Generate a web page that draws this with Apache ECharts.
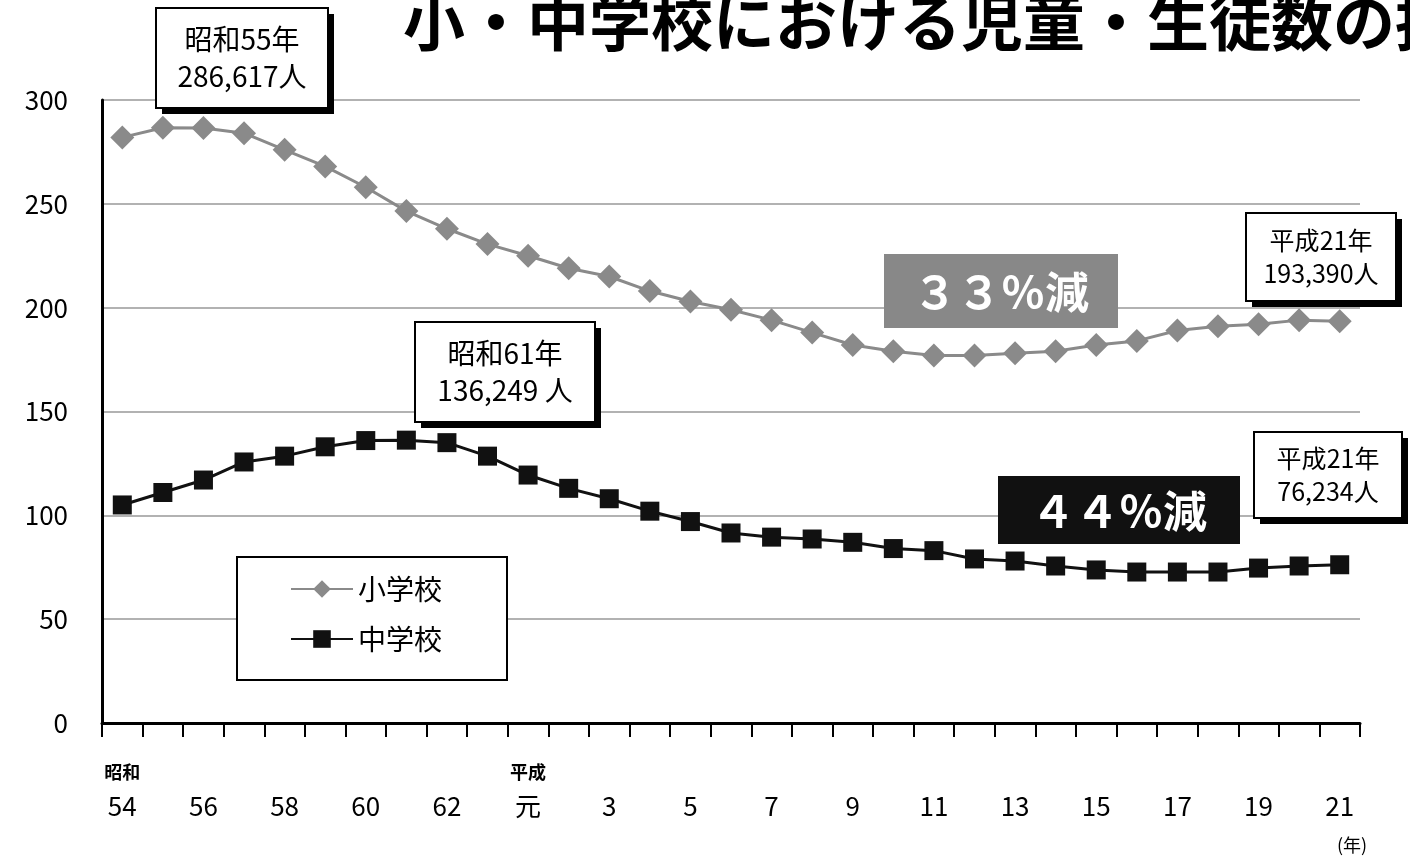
<!DOCTYPE html>
<html>
<head>
<meta charset="utf-8">
<script src="https://cdn.jsdelivr.net/npm/echarts@6/dist/echarts.min.js"></script>
<style>
html,body{margin:0;padding:0;background:#fff;}
#chart{width:1410px;height:860px;}
</style>
</head>
<body>
<div id="chart"></div>
<script>
var years = ["昭和54","55","56","57","58","59","60","61","62","63",
    "平成元","2","3","4","5","6","7","8","9","10","11","12","13","14","15","16","17","18","19","20","21"];
var tickLabels = ["54","55","56","57","58","59","60","61","62","63",
    "元","2","3","4","5","6","7","8","9","10","11","12","13","14","15","16","17","18","19","20","21"];
// 千人
var elementary = [282, 286.6, 286.5, 284, 276, 268, 258, 246.5, 238, 230.6, 225, 219, 215, 208, 203, 199,
    194, 188, 182, 179, 177, 177, 178, 179, 182, 184, 189, 191, 192, 194, 193.4];
var juniorHigh = [105, 111, 117, 125.7, 128.5, 133, 136, 136.2, 135, 128.5, 119.4, 113, 108, 102, 97, 91.5,
    89.5, 88.6, 87, 84, 83, 79, 78, 75.6, 73.7, 72.7, 72.7, 72.7, 74.6, 75.6, 76.2];

var chart = echarts.init(document.getElementById("chart"));
var font = "'Noto Sans CJK JP', sans-serif";

function box(x, y, w, h, lines, size) {
    return [
        { type: 'rect', shape: { x: x + 6, y: y + 6, width: w, height: h }, style: { fill: '#000' }, z: 20 },
        { type: 'rect', shape: { x: x, y: y, width: w, height: h }, style: { fill: '#fff', stroke: '#000', lineWidth: 2 }, z: 21 },
        { type: 'text', x: x + w / 2, y: y + h / 2, z: 22,
          style: { text: lines, fill: '#000', font: size + 'px ' + font, align: 'center', verticalAlign: 'middle', lineHeight: size * 1.3 } }
    ];
}

var graphics = [].concat(
    box(156, 8, 172, 100, "昭和55年\n286,617人", 28),
    box(415, 322, 180, 100, "昭和61年\n136,249 人", 28),
    box(1246, 213, 150, 88, "平成21年\n193,390人", 25),
    box(1254, 432, 148, 86, "平成21年\n76,234人", 25),
    [
        { type: 'rect', shape: { x: 884, y: 254, width: 234, height: 74 }, style: { fill: '#888' }, z: 20 },
        { type: 'text', x: 1001, y: 292, z: 21, style: { text: "３３％減", fill: '#fff', font: 'bold 44px ' + font, align: 'center', verticalAlign: 'middle' } },
        { type: 'rect', shape: { x: 998, y: 476, width: 242, height: 68 }, style: { fill: '#111' }, z: 20 },
        { type: 'text', x: 1119, y: 511, z: 21, style: { text: "４４％減", fill: '#fff', font: 'bold 44px ' + font, align: 'center', verticalAlign: 'middle' } },
        { type: 'rect', shape: { x: 237, y: 557, width: 270, height: 123 }, style: { fill: '#fff', stroke: '#000', lineWidth: 2 }, z: 5 },
        { type: 'text', x: 1352, y: 845, z: 5, style: { text: "(年)", fill: '#000', font: '18px ' + font, align: 'center', verticalAlign: 'middle' } }
    ]
);

var option = {
    backgroundColor: '#fff',
    animation: false,
    title: {
        text: '小・中学校における児童・生徒数の推移',
        left: 398, top: -14,
        textStyle: { fontSize: 62, fontWeight: 'bold', color: '#000', fontFamily: font }
    },
    legend: {
        left: 285, top: 570, orient: 'vertical', itemGap: 22, itemWidth: 62, itemHeight: 22,
        textStyle: { fontSize: 28, color: '#000', fontFamily: font },
        data: ['小学校', '中学校'], z: 10
    },
    grid: { left: 102, right: 50, top: 100, bottom: 137 },
    xAxis: {
        type: 'category',
        data: years,
        boundaryGap: true,
        axisLine: { lineStyle: { color: '#000', width: 3 } },
        axisTick: { show: true, alignWithLabel: false, length: 14, lineStyle: { color: '#000', width: 2 }, interval: 0 },
        axisLabel: {
            interval: 1, margin: 30,
            formatter: function (v, i) {
                var t = tickLabels[i];
                if (i === 0) return '{era|昭和}\n{num|' + t + '}';
                if (i === 10) return '{era|平成}\n{num|' + t + '}';
                return '{era| }\n{num|' + t + '}';
            },
            rich: {
                era: { fontSize: 18, fontWeight: 'bold', color: '#000', fontFamily: font, lineHeight: 38 },
                num: { fontSize: 26, color: '#000', fontFamily: font, lineHeight: 30 }
            }
        }
    },
    yAxis: {
        type: 'value', min: 0, max: 300, interval: 50,
        axisLine: { show: true, lineStyle: { color: '#000', width: 3 } },
        axisTick: { show: false },
        splitLine: { lineStyle: { color: '#999', width: 1.5 } },
        axisLabel: { fontSize: 26, color: '#000', fontFamily: font, margin: 34 }
    },
    series: [
        {
            name: '小学校', type: 'line', data: elementary,
            symbol: 'diamond', symbolSize: 24,
            lineStyle: { color: '#8a8a8a', width: 3 },
            itemStyle: { color: '#8a8a8a' }
        },
        {
            name: '中学校', type: 'line', data: juniorHigh,
            symbol: 'rect', symbolSize: 19,
            lineStyle: { color: '#111', width: 3 },
            itemStyle: { color: '#111' }
        }
    ],
    graphic: graphics
};

chart.setOption(option);
</script>
</body>
</html>
